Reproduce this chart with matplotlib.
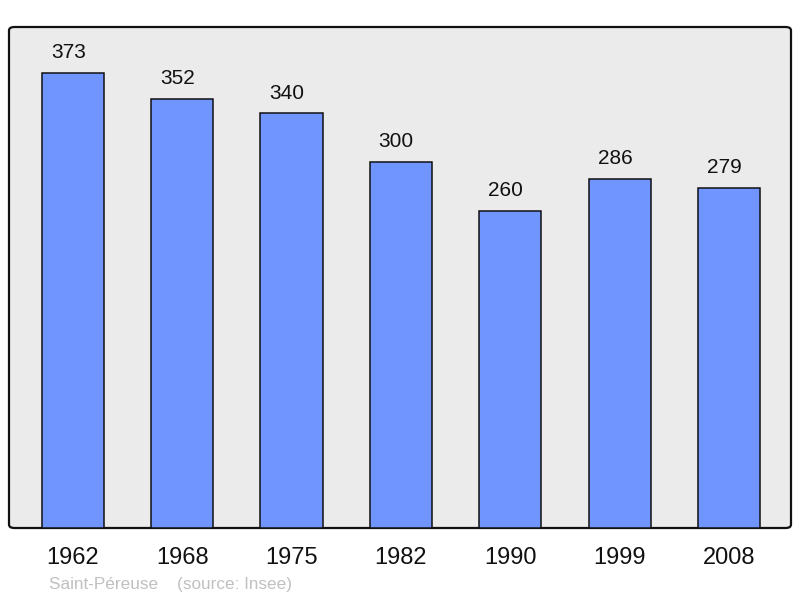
import matplotlib
matplotlib.use("Agg")
import matplotlib.pyplot as plt
from matplotlib.patches import FancyBboxPatch

years = ["1962", "1968", "1975", "1982", "1990", "1999", "2008"]
population = [373, 352, 340, 300, 260, 286, 279]

plt.rcParams['font.family'] = ['Liberation Sans', 'DejaVu Sans']

fig = plt.figure(figsize=(8, 5.98), dpi=100)
W, H = 800, 598
ax = fig.add_axes([9 / W, (H - 528) / H, 782 / W, 501 / H])
ax.set_facecolor('none')
for s in ax.spines.values():
    s.set_visible(False)

frame = FancyBboxPatch((0, 0), 1, 1,
                       boxstyle="round,pad=0,rounding_size=0.007",
                       transform=ax.transAxes, facecolor='#ebebeb',
                       edgecolor='#111111', linewidth=1.6, zorder=0,
                       clip_on=False)
ax.add_patch(frame)

x = list(range(len(years)))
ax.bar(x, population, width=0.57, color='#7095ff', edgecolor='#111111',
       linewidth=1.1, zorder=2)
for xi, v in zip(x, population):
    ax.annotate(str(v), (xi, v), xytext=(-3.4, 14.5), textcoords='offset points',
                ha='center', va='center', fontsize=15, color='#111111')

ax.set_xlim(-0.585, 6.567)
ax.set_ylim(0, 410.7)
ax.set_yticks([])
ax.set_xticks(x)
ax.set_xticklabels(years, fontsize=17, color='#111111')
ax.tick_params(axis='x', length=0, pad=14)

fig.text(49 / W, 1 - 584 / H, "Saint-Péreuse    (source: Insee)",
         fontsize=12.3, color='#c0c0c0', ha='left', va='center')

fig.savefig("out.png", dpi=100)
